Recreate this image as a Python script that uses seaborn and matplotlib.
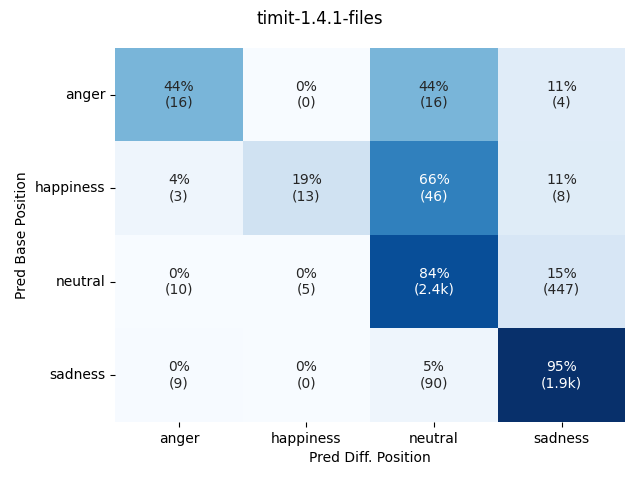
import numpy as np
import pandas as pd
import matplotlib
matplotlib.use("Agg")
import matplotlib.pyplot as plt
import seaborn as sns

labels = ["anger", "happiness", "neutral", "sadness"]
row_anger = [16, 0, 16, 4]
row_happiness = [3, 13, 46, 8]
row_neutral = [10, 5, 2438, 447]
row_sadness = [9, 0, 90, 1881]

counts = np.array([row_anger, row_happiness, row_neutral, row_sadness], dtype=float)
pct = counts / counts.sum(axis=1, keepdims=True)

def fmt_count(c):
    if c >= 1000:
        return f"{c/1000:.1f}k"
    return f"{int(c)}"

annot = np.array([[f"{pct[i, j]*100:.0f}%\n({fmt_count(counts[i, j])})"
                   for j in range(4)] for i in range(4)])

df = pd.DataFrame(pct, index=labels, columns=labels)

fig, ax = plt.subplots(figsize=(6.4, 4.8), dpi=100)
sns.heatmap(df, annot=annot, fmt="", cmap="Blues", cbar=False, ax=ax,
            vmin=0, vmax=pct.max())
ax.set_xlabel("Pred Diff. Position")
ax.set_ylabel("Pred Base Position")
ax.tick_params(axis="y", rotation=0)
fig.suptitle("timit-1.4.1-files", fontsize=12)
fig.subplots_adjust(left=0.18, right=0.977, top=0.9, bottom=0.121)
fig.savefig("out.png")
